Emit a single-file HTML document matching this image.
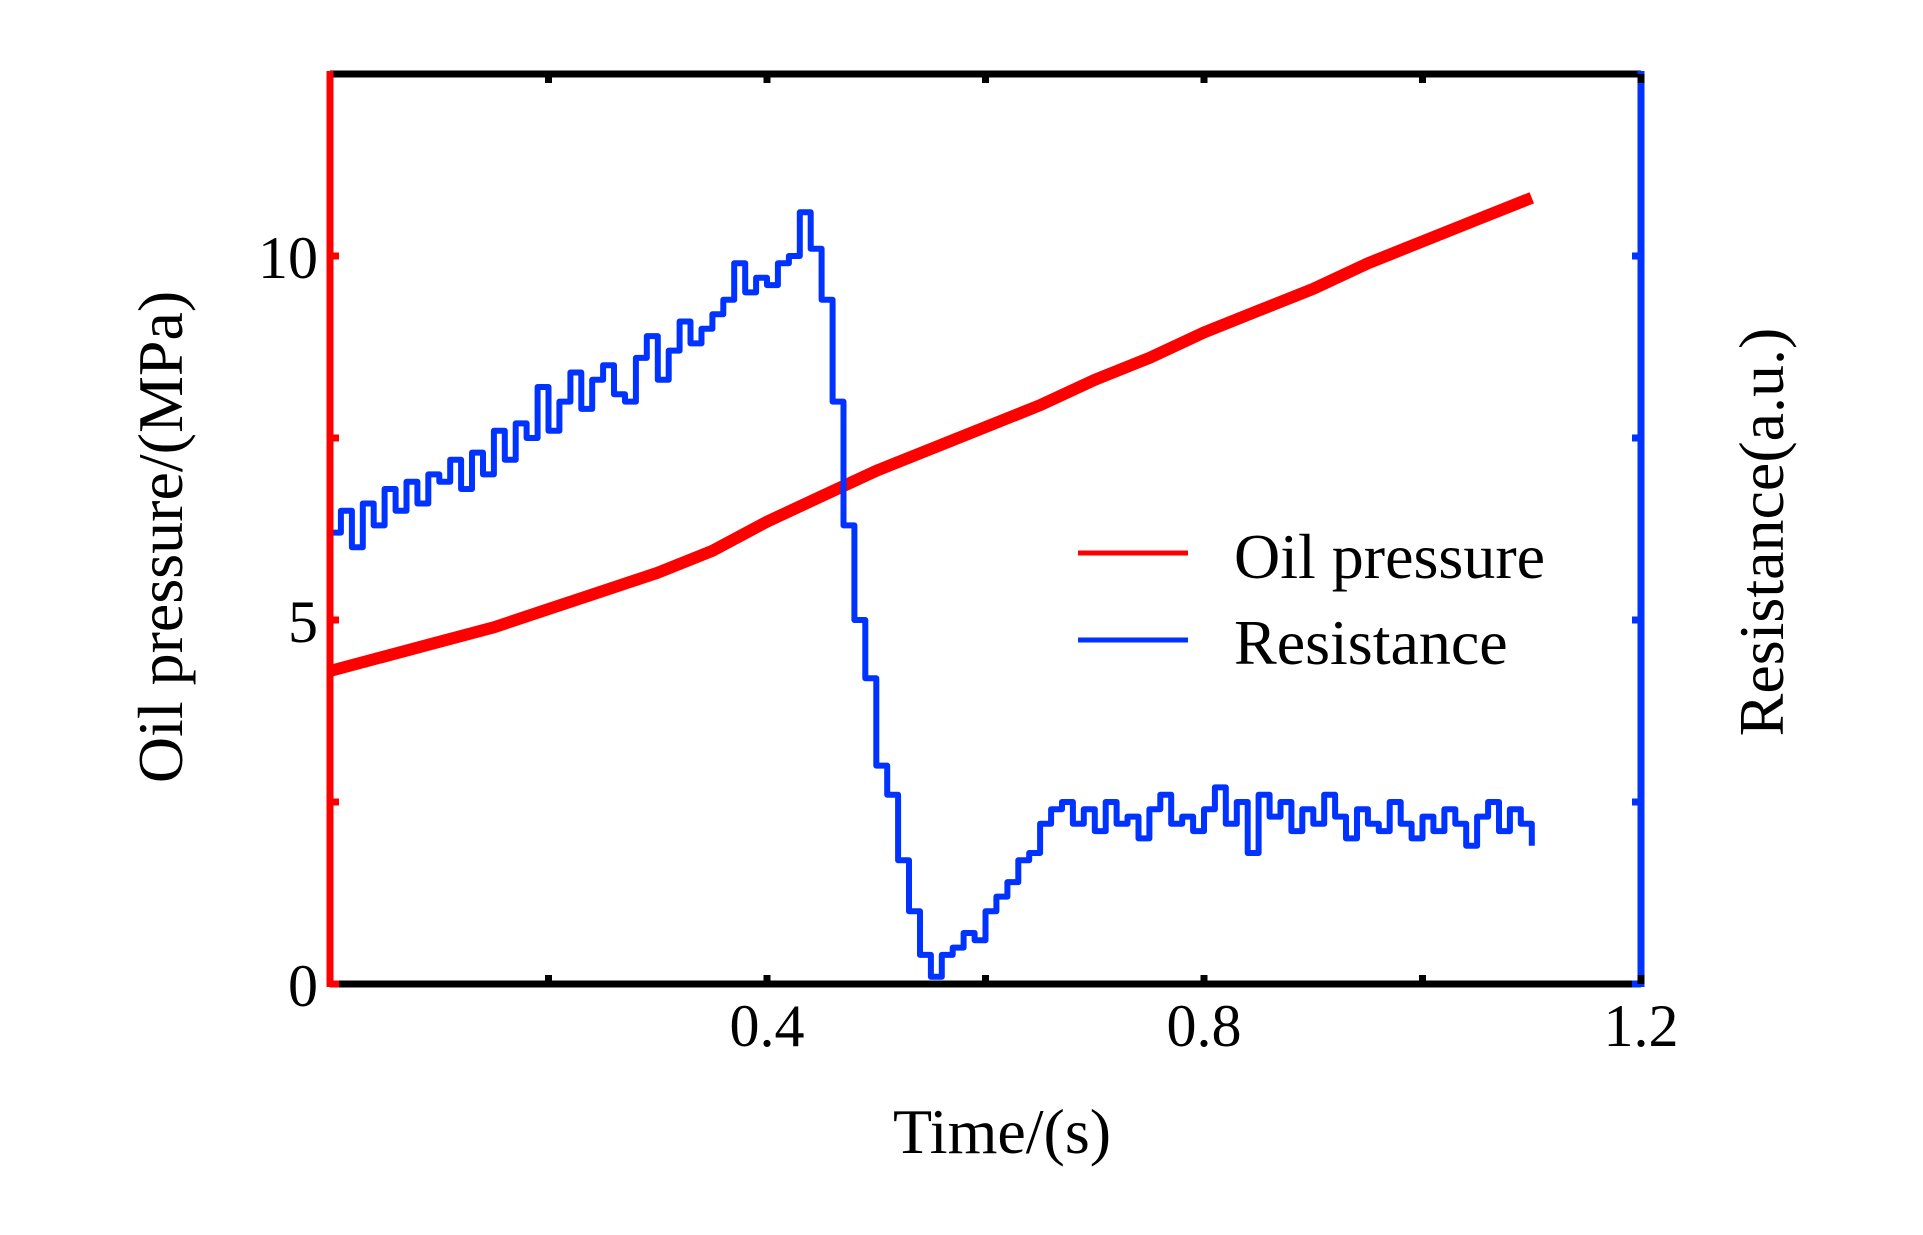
<!DOCTYPE html>
<html><head><meta charset="utf-8"><style>
html,body{margin:0;padding:0;background:#fff;}
svg{display:block;font-family:"Liberation Serif",serif;}
</style></head><body>
<svg id="chart" width="1923" height="1235" viewBox="0 0 1923 1235" xmlns="http://www.w3.org/2000/svg">
<rect width="1923" height="1235" fill="#fff"/>
<g id="series"></g>
<g id="axes"></g>
<g>
  <line x1="1078" y1="553" x2="1188" y2="553" stroke="#ff0000" stroke-width="5"/>
  <text x="1234" y="578" font-size="64">Oil pressure</text>
  <line x1="1078" y1="640" x2="1188" y2="640" stroke="#0033ff" stroke-width="5"/>
  <text x="1234" y="664" font-size="64">Resistance</text>
</g>
<text x="1002" y="1153" font-size="64" text-anchor="middle">Time/(s)</text>
<text transform="translate(182,537) rotate(-90)" font-size="64" text-anchor="middle">Oil pressure/(MPa)</text>
<text transform="translate(1783,532) rotate(-90)" font-size="64" text-anchor="middle">Resistance(a.u.)</text>
</svg>
<script>
const resDt = 0.01;
const resistance = [6.2,6.5,6.0,6.6,6.3,6.8,6.5,6.9,6.6,7.0,6.9,
7.2,6.8,7.3,7.0,7.6,7.2,7.7,7.5,8.2,7.6,
8.0,8.4,7.9,8.3,8.5,8.1,8.0,8.6,8.9,8.3,
8.7,9.1,8.8,9.0,9.2,9.4,9.9,9.5,9.7,9.6,
9.9,10.0,10.6,10.1,9.4,8.0,6.3,5.0,4.2,3.0,
2.6,1.7,1.0,0.4,0.1,0.4,0.5,0.7,0.6,1.0,
1.2,1.4,1.7,1.8,2.2,2.4,2.5,2.2,
2.4,2.1,2.5,2.2,2.3,2.0,2.4,2.6,2.2,2.3,2.1,2.4,2.7,2.2,2.5,1.8,2.6,2.3,2.5,2.1,2.4,2.2,2.6,2.3,2.0,2.4,2.2,2.1,2.5,2.2,2.0,2.3,2.1,2.4,2.2,1.9,2.3,2.5,2.1,2.4,2.2,1.9];
const presDt = 0.05;
const pressure = [4.3,4.5,4.7,4.9,5.15,5.4,5.65,5.95,6.35,6.7,7.05,7.35,7.65,7.95,8.3,8.6,8.95,9.25,9.55,9.9,10.2,10.5,10.8];
const yTicks = [0,5,10];
const yTickLabels = ["0","5","10"];
const yMinor = [2.5,7.5];
const xTicks = [0.4,0.8,1.2];
const xTickLabels = ["0.4","0.8","1.2"];
const xMinor = [0.2,0.6,1.0];

const X0=330,X1=1641,Y0=984,Ytop=74,xMax=1.2,yMax=12.5;
const sx=t=>X0+t*(X1-X0)/xMax;
const sy=v=>Y0-v*(Y0-Ytop)/yMax;
const NS="http://www.w3.org/2000/svg";
const seriesG=document.getElementById('series');
const axesG=document.getElementById('axes');
function mk(tag,attrs,parent){const e=document.createElementNS(NS,tag);for(const k in attrs)e.setAttribute(k,attrs[k]);parent.appendChild(e);return e;}

let d='';
pressure.forEach((v,i)=>{d+=(i?'L':'M')+sx(i*presDt).toFixed(1)+' '+sy(v).toFixed(1);});
const pp=mk('path',{d:d,fill:'none',stroke:'#ff0000','stroke-width':12,'stroke-linejoin':'round','stroke-linecap':'butt'},seriesG);



d='';
resistance.forEach((v,i)=>{const x=sx(i*resDt),y=sy(v);
 if(i===0)d+='M'+x.toFixed(1)+' '+y.toFixed(1);
 else d+='H'+x.toFixed(1)+'V'+y.toFixed(1);});
const rp=mk('path',{d:d,fill:'none',stroke:'#0033ff','stroke-width':6,'stroke-linejoin':'round'},seriesG);



const topAxis=mk('line',{x1:X0,y1:Ytop,x2:X1,y2:Ytop,stroke:'#000','stroke-width':7},axesG);


const botAxis=mk('line',{x1:X0,y1:Y0,x2:X1,y2:Y0,stroke:'#000','stroke-width':7},axesG);


const leftAxis=mk('line',{x1:X0,y1:Ytop-3,x2:X0,y2:Y0+3,stroke:'#ff0000','stroke-width':7},axesG);


const rightAxis=mk('line',{x1:X1,y1:Ytop-3,x2:X1,y2:Y0+3,stroke:'#0033ff','stroke-width':7},axesG);



yTicks.concat(yMinor).forEach(v=>{const y=sy(v);
 const a=mk('line',{x1:X0,y1:y,x2:X0+9,y2:y,stroke:'#ff0000','stroke-width':7},axesG);
 
 
 const b=mk('line',{x1:X1-9,y1:y,x2:X1,y2:y,stroke:'#0033ff','stroke-width':7},axesG);
 
 
});
yTicks.forEach((v,i)=>{
 const t=mk('text',{x:318,y:sy(v)+22,'font-size':60,'text-anchor':'end'},axesG);
 t.textContent=yTickLabels[i];
 
 
});
xTicks.concat(xMinor).forEach(v=>{const x=sx(v);
 const a=mk('line',{x1:x,y1:Y0,x2:x,y2:Y0-9,stroke:'#000','stroke-width':7},axesG);
 
 
 const b=mk('line',{x1:x,y1:Ytop,x2:x,y2:Ytop+9,stroke:'#000','stroke-width':7},axesG);
 
 
});
xTicks.forEach((v,i)=>{
 const t=mk('text',{x:sx(v),y:1046,'font-size':60,'text-anchor':'middle'},axesG);
 t.textContent=xTickLabels[i];
 
 
});
</script>
</body></html>
